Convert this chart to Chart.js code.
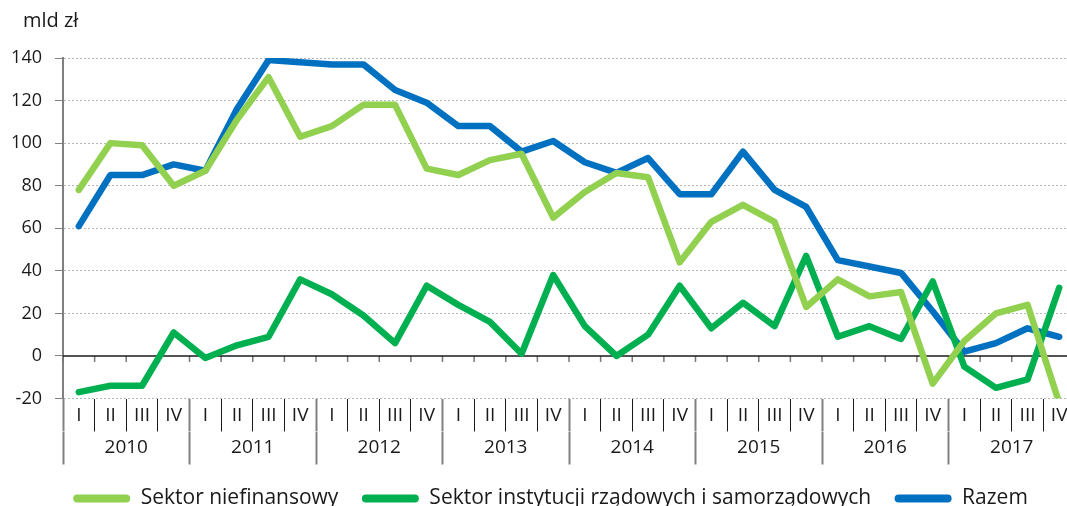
<!DOCTYPE html>
<html>
<head>
<meta charset="utf-8">
<script src="https://cdn.jsdelivr.net/npm/chart.js@4"></script>
<style>
  html, body { margin: 0; padding: 0; overflow: hidden; background: #fff; }
  #wrap { position: relative; width: 1110px; height: 519px; }
  #unit { position: absolute; left: 23px; top: 6px; font: 20px 'Open Sans', 'Noto Sans', sans-serif; color: #1a1a1a; }
</style>
</head>
<body>
<div id="wrap"><div id="unit">mld zł</div><canvas id="C"></canvas></div>
<script>
const years = ["2010", "2011", "2012", "2013", "2014", "2015", "2016", "2017"];
const quarters = ["I", "II", "III", "IV"];
const labels = years.flatMap(y => quarters.map(q => q + " " + y));

const niefinansowy = [78, 100, 99, 80, 87, 111, 131, 103,
  108, 118, 118, 88, 85, 92, 95, 65,
  77, 86, 84, 44, 63, 71, 63, 23,
  36, 28, 30, -13, 7, 20, 24, -22];
const rzadowy = [-17, -14, -14, 11, -1, 5, 9, 36,
  29, 19, 6, 33, 24, 16, 1, 38,
  14, 0, 10, 33, 13, 25, 14, 47,
  9, 14, 8, 35, -5, -15, -11, 32];
const razem = [61, 85, 85, 90, 87, 116, 139, 138,
  137, 137, 125, 119, 108, 108, 96, 101,
  91, 86, 93, 76, 76, 96, 78, 70,
  45, 42, 39, 21, 2, 6, 13, 9];

const font = "'Open Sans', 'Noto Sans', sans-serif";
const ink = "#1a1a1a";

// linia zera z małymi kreskami jak w oryginale
const zeroLine = {
  id: "zeroLine",
  beforeDatasetsDraw(chart) {
    const {ctx, chartArea, scales} = chart;
    const y0 = scales.y.getPixelForValue(0);
    const x = scales.x;
    const step = x.width / labels.length;
    ctx.save();
    ctx.strokeStyle = "#777";
    ctx.lineWidth = 1.5;
    for (let i = 0; i <= labels.length; i++) {
      const px = x.left + i * step;
      ctx.beginPath();
      ctx.moveTo(px, y0);
      ctx.lineTo(px, y0 + 6);
      ctx.stroke();
    }
    ctx.strokeStyle = ink;
    ctx.lineWidth = 1.5;
    ctx.beginPath();
    ctx.moveTo(chartArea.left, y0);
    ctx.lineTo(chartArea.right, y0);
    ctx.stroke();
    ctx.restore();
  }
};

// legenda w oryginale jest nieco przesunięta w prawo
const legendShift = {
  id: "legendShift",
  afterLayout(chart) {
    chart.legend.left += 13;
    chart.legend.right += 13;
  }
};

const line = (label, data, color) => ({
  label, data,
  borderColor: color,
  backgroundColor: color,
  borderWidth: 6.5,
  pointRadius: 0,
  tension: 0,
  borderJoinStyle: "round",
  borderCapStyle: "round"
});

new Chart(document.getElementById("C"), {
  type: "line",
  data: {
    labels: labels,
    datasets: [
      line("Sektor niefinansowy", niefinansowy, "#92D050"),
      line("Sektor instytucji rządowych i samorządowych", rzadowy, "#00B050"),
      line("Razem", razem, "#0070C0")
    ]
  },
  options: {
    responsive: true,
    maintainAspectRatio: false,
    animation: false,
    layout: { padding: { left: 0, right: 35, top: 58, bottom: 0 } },
    scales: {
      x: {
        type: "category",
        offset: true,
        weight: 0,
        border: { display: false },
        grid: {
          offset: true,
          drawOnChartArea: false,
          tickLength: 33,
          tickColor: c => c.index % 4 === 0 ? "#808080" : ink,
          tickWidth: c => c.index % 4 === 0 ? 2 : 1
        },
        ticks: {
          autoSkip: false,
          maxRotation: 0,
          padding: -27,
          color: ink,
          font: { family: font, size: 19 },
          callback: (v, i) => quarters[i % 4]
        },
        afterFit: s => { s.height = 33; }
      },
      x2: {
        type: "category",
        position: "bottom",
        labels: years,
        offset: true,
        weight: 1,
        border: { display: false },
        grid: {
          offset: true,
          drawOnChartArea: false,
          tickLength: 33,
          tickColor: "#808080",
          tickWidth: 2
        },
        ticks: {
          maxRotation: 0,
          padding: -28,
          color: ink,
          font: { family: font, size: 19 }
        },
        afterFit: s => { s.height = 33; }
      },
      y: {
        min: -20,
        max: 140,
        border: { display: true, color: "#808080", width: 2, dash: [2, 2] },
        grid: {
          color: c => c.tick && c.tick.value === 0 ? "rgba(0,0,0,0)" : "#b5b5b5",
          lineWidth: 1,
          tickLength: 8,
          tickColor: "#808080",
          tickBorderDash: []
        },
        ticks: {
          stepSize: 20,
          padding: 13,
          color: ink,
          font: { family: font, size: 18 }
        },
        afterFit: s => { s.width = 63; }
      }
    },
    plugins: {
      legend: {
        position: "bottom",
        labels: {
          boxWidth: 57,
          boxHeight: 8,
          useBorderRadius: true,
          borderRadius: 4,
          padding: 23.5,
          color: ink,
          font: { family: font, size: 21 },
          generateLabels: chart => Chart.defaults.plugins.legend.labels.generateLabels(chart)
            .map(l => Object.assign(l, { lineWidth: 0 }))
        }
      },
      tooltip: { enabled: false }
    }
  },
  plugins: [zeroLine, legendShift]
});
</script>
</body>
</html>
